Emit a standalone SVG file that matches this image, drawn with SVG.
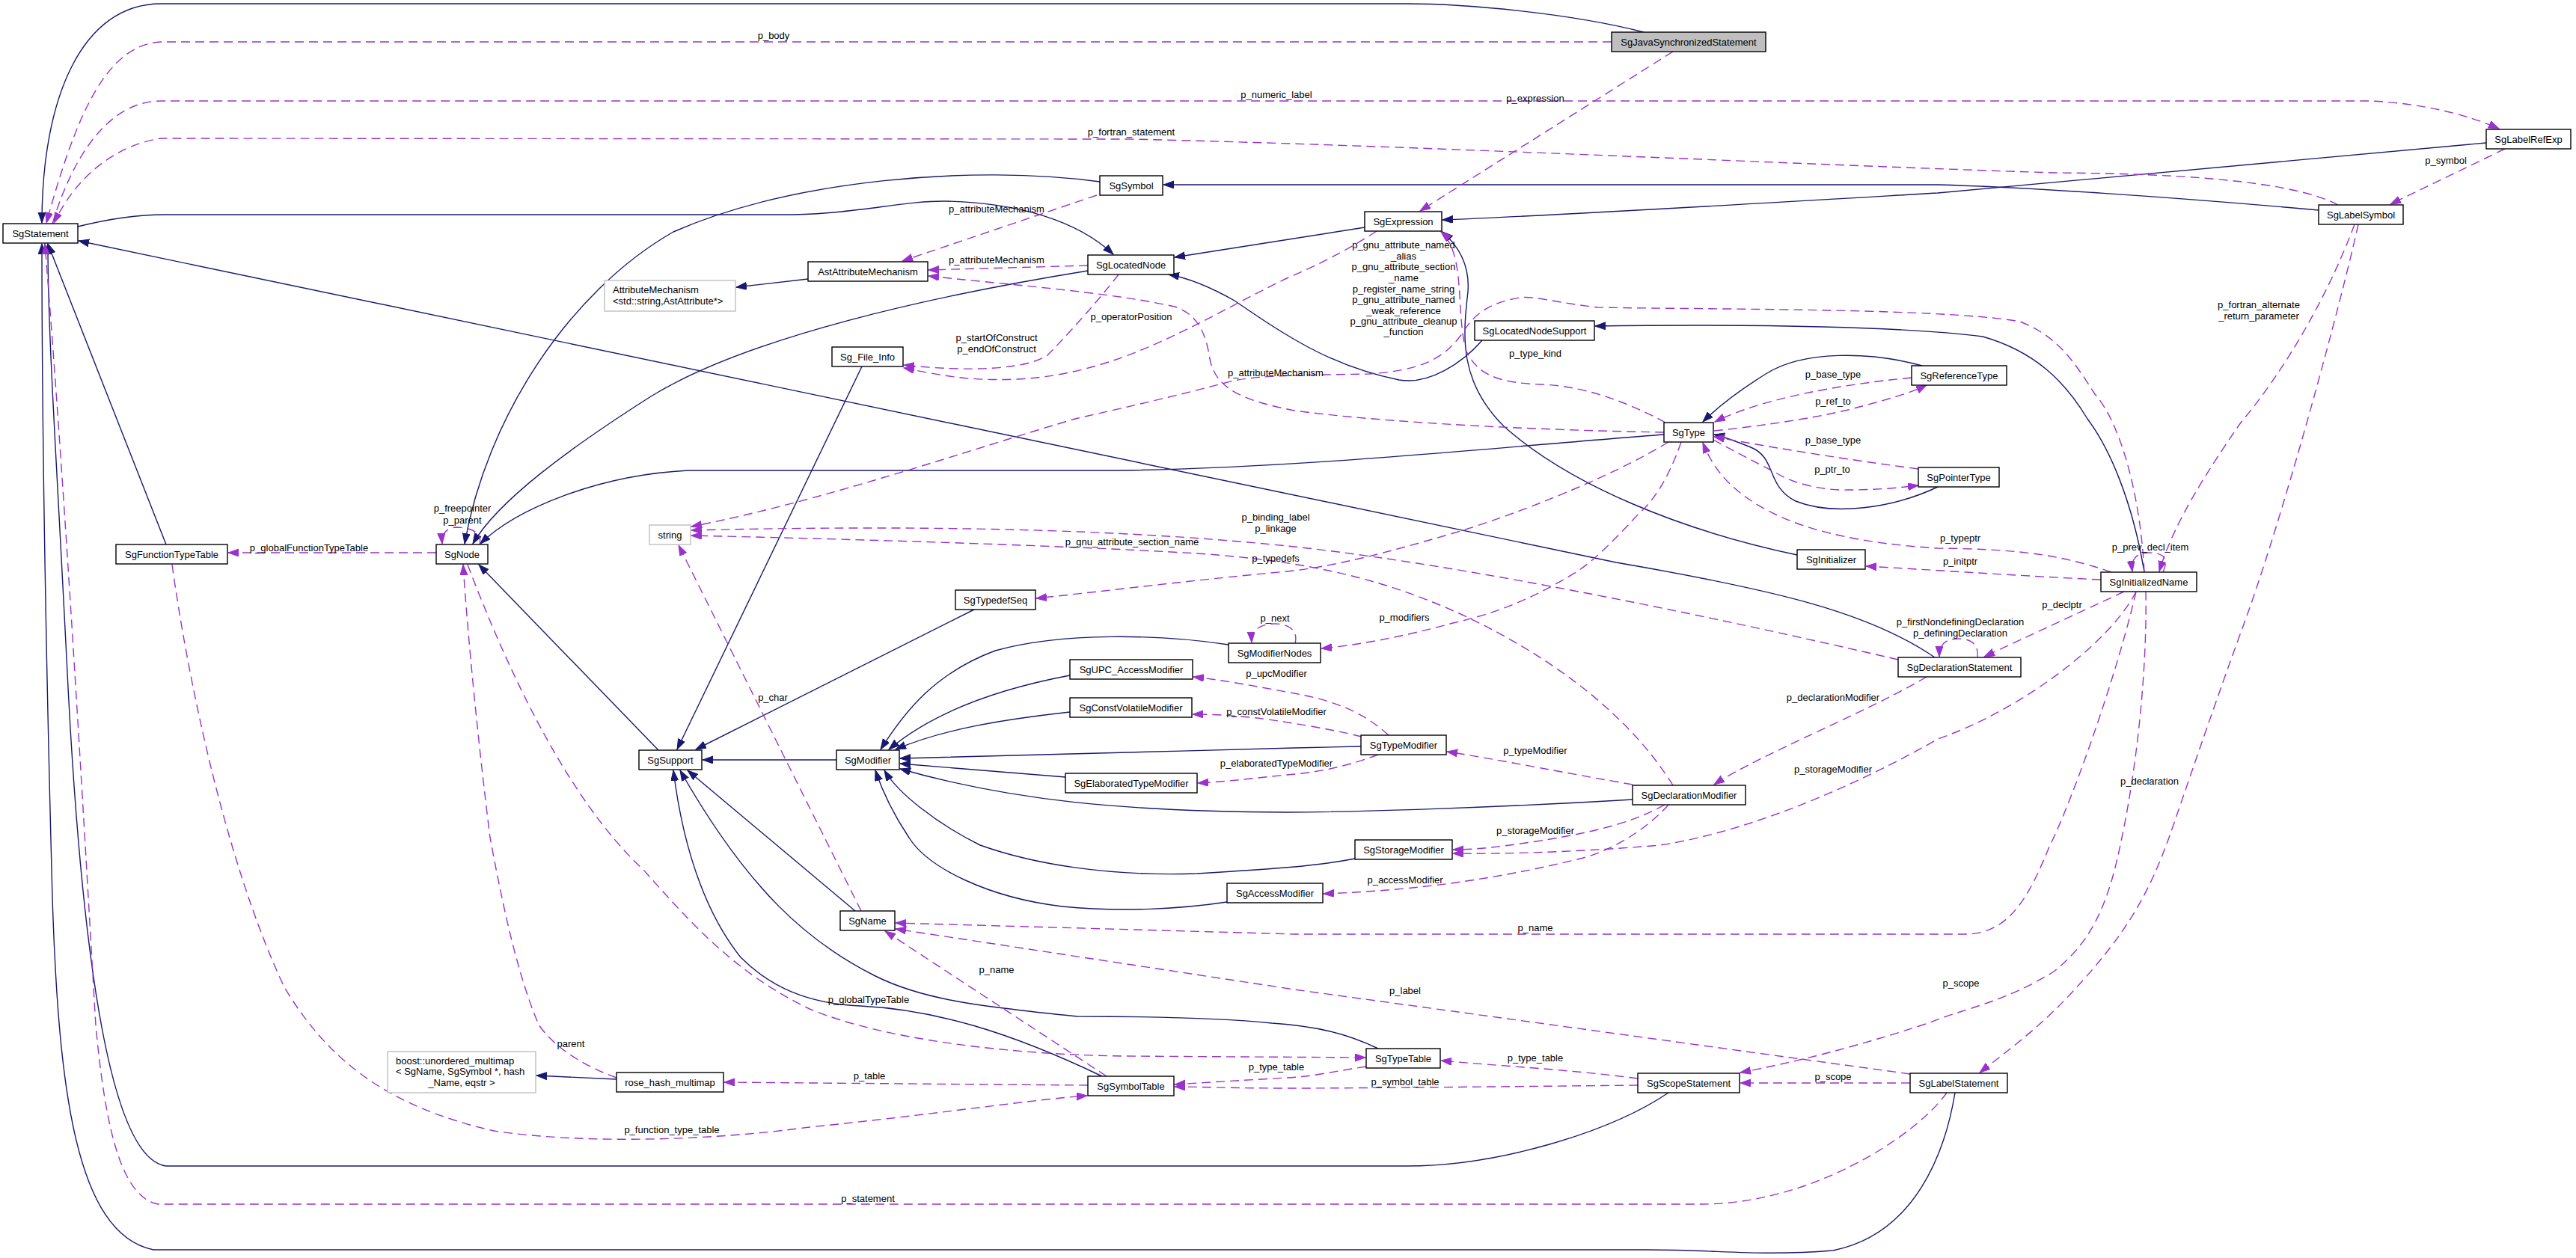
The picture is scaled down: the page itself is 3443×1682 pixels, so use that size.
<svg xmlns="http://www.w3.org/2000/svg" width="3443" height="1682" viewBox="0 0 3443 1682">
<style>
text{font-family:"Liberation Sans",Arial,Helvetica,sans-serif;font-size:13px;fill:#000}
.n rect{fill:#fff;stroke:#000;stroke-width:1.4}
.g rect{fill:#fff;stroke:#bfbfbf;stroke-width:1.4}
.n text,.c,.lbl{text-anchor:middle}
.inh{fill:none;stroke:#191970;stroke-width:1.4;marker-end:url(#ab)}
.use{fill:none;stroke:#9a32cd;stroke-width:1.4;stroke-dasharray:12,7;marker-end:url(#ap)}
</style>
<defs>
<marker id="ab" markerUnits="userSpaceOnUse" markerWidth="15" markerHeight="11" refX="14" refY="5" orient="auto"><path d="M0,0 L14,5 L0,10 z" fill="#191970" stroke="#191970"/></marker>
<marker id="ap" markerUnits="userSpaceOnUse" markerWidth="15" markerHeight="11" refX="14" refY="5" orient="auto"><path d="M0,0 L14,5 L0,10 z" fill="#9a32cd" stroke="#9a32cd"/></marker>
</defs>
<rect x="0" y="0" width="3443" height="1682" fill="#fff"/>
<g id="connectors">
<path class="inh" d="M2197,43 C2100,18 1960,5 1880,5 L215,5 C110,5 56,130 56,298"/>
<path class="inh" d="M104,303 C140,294 180,287 220,287 L1060,287 C1150,285 1210,268 1265,269 C1360,271 1440,295 1488,340"/>
<path class="inh" d="M1470,243 C1300,220 1060,240 900,310 C760,390 650,560 621,727"/>
<path class="inh" d="M1454,362 C1250,395 1000,450 870,530 C760,600 665,670 632,727"/>
<path class="inh" d="M2224,581 C2000,598 1750,625 1500,629 L920,629 C800,635 690,680 642,727"/>
<path class="inh" d="M880,1003 L640,755"/>
<path class="inh" d="M1152,490 L905,1002"/>
<path class="inh" d="M1302,815 L930,1002"/>
<path class="inh" d="M1118,1016 L939,1016"/>
<path class="inh" d="M1473,1439 C1350,1380 1250,1350 1150,1345 C1080,1342 1030,1320 990,1280 C950,1230 915,1150 900,1030"/>
<path class="inh" d="M1842,1402 C1800,1382 1760,1372 1700,1368 C1620,1360 1520,1359 1440,1359 C1300,1345 1230,1335 1170,1305 C1080,1260 1000,1190 909,1030"/>
<path class="inh" d="M1143,1218 L919,1030"/>
<path class="inh" d="M1642,862 C1550,848 1420,845 1330,870 C1250,900 1210,950 1177,1002"/>
<path class="inh" d="M1430,903 C1340,920 1250,950 1188,1002"/>
<path class="inh" d="M1430,952 C1340,962 1260,975 1197,1002"/>
<path class="inh" d="M1819,998 L1730,1000 C1550,1005 1350,1010 1203,1014"/>
<path class="inh" d="M1424,1039 L1203,1021"/>
<path class="inh" d="M2182,1069 C2000,1080 1800,1086 1720,1086 C1500,1085 1350,1070 1203,1028"/>
<path class="inh" d="M1640,1206 C1580,1215 1500,1220 1420,1212 C1320,1200 1240,1160 1215,1120 C1195,1090 1180,1060 1170,1030"/>
<path class="inh" d="M1811,1148 C1760,1158 1700,1162 1600,1168 C1480,1172 1380,1155 1310,1130 C1250,1100 1200,1060 1182,1030"/>
<path class="inh" d="M1824,304 L1570,344"/>
<path class="inh" d="M3323,191 L2590,258 C2300,275 2100,287 1928,294"/>
<path class="inh" d="M3099,281 C2900,263 2700,250 2590,247 L1555,247"/>
<path class="inh" d="M2402,742 C2250,710 2100,650 2010,570 C1950,510 1955,450 1962,390 C1965,350 1945,325 1928,310"/>
<path class="inh" d="M1981,455 C1955,485 1910,515 1870,508 C1780,490 1720,450 1650,402 C1620,385 1590,372 1562,367"/>
<path class="inh" d="M2569,489 C2500,470 2410,468 2360,500 C2320,525 2295,545 2276,564"/>
<path class="inh" d="M2592,650 C2530,680 2450,690 2400,670 C2360,650 2375,612 2340,598 C2320,590 2305,584 2291,581"/>
<path class="inh" d="M2866,765 C2850,670 2820,600 2790,560 C2760,510 2720,470 2650,450 C2550,437 2350,433 2132,436"/>
<path class="inh" d="M2586,879 C2500,820 2380,790 2160,752 L105,322"/>
<path class="inh" d="M222,728 L64,326"/>
<path class="inh" d="M2230,1461 C2150,1515 2000,1559 1880,1559 L222,1559 C150,1550 110,1300 90,900 C75,600 64,450 64,326"/>
<path class="inh" d="M2613,1461 C2600,1540 2560,1650 2450,1672 C2350,1680 2300,1671 2200,1671 L205,1671 C100,1650 78,1450 70,1200 C62,900 56,600 56,326"/>
<path class="inh" d="M1080,373 L984,384"/>
<path class="inh" d="M824,1443 L717,1438"/>
<path class="use" d="M2154,56 L215,56 C140,60 100,160 62,298"/>
<path class="use" d="M70,299 C100,200 150,135 215,135 L3169,135 C3230,138 3290,150 3340,172"/>
<path class="use" d="M3125,274 C3060,240 2900,232 2745,231 C2400,220 1900,195 1512,186 L215,185 C150,195 100,240 72,298"/>
<path class="use" d="M2236,69 L1898,282"/>
<path class="use" d="M3348,199 L3195,273"/>
<path class="use" d="M1466,261 L1206,349"/>
<path class="use" d="M1454,355 L1241,361"/>
<path class="use" d="M2224,578 C2050,575 1850,565 1730,549 C1660,535 1625,520 1617,480 C1612,445 1600,420 1570,410 C1480,390 1340,380 1241,369"/>
<path class="use" d="M1495,367 C1470,400 1420,455 1400,475 C1370,495 1290,497 1208,488"/>
<path class="use" d="M1840,309 C1800,335 1760,355 1720,372 C1600,430 1500,500 1359,507 C1290,510 1250,500 1208,492"/>
<path class="use" d="M2226,565 C2180,540 2120,516 2060,514 C2000,512 1975,500 1960,470 C1945,420 1960,340 1926,310"/>
<path class="use" d="M2555,505 C2450,515 2350,535 2292,564"/>
<path class="use" d="M2291,576 C2350,570 2420,560 2470,548 C2520,535 2555,525 2575,515"/>
<path class="use" d="M2564,627 C2450,612 2350,595 2291,584"/>
<path class="use" d="M2290,588 C2330,610 2360,625 2375,633 C2400,648 2440,656 2470,655 C2510,655 2540,652 2564,649"/>
<path class="use" d="M2822,765 C2750,740 2690,734 2590,733 C2460,725 2380,700 2330,662 C2300,640 2285,615 2276,592"/>
<path class="use" d="M2808,775 C2700,770 2600,763 2494,757"/>
<path class="use" d="M2891,765 C2900,745 2890,739 2872,739 C2855,739 2848,748 2850,764"/>
<path class="use" d="M3147,300 C3110,400 3050,500 2995,565 C2950,630 2905,700 2886,764"/>
<path class="use" d="M2839,791 L2652,878"/>
<path class="use" d="M2643,879 C2645,862 2635,854 2618,854 C2600,854 2592,862 2592,878"/>
<path class="use" d="M2575,905 C2500,950 2350,1010 2291,1049"/>
<path class="use" d="M2855,791 C2820,860 2700,950 2590,988 C2500,1040 2350,1110 2219,1130 C2100,1140 2000,1142 1942,1141"/>
<path class="use" d="M2225,1076 C2190,1095 2150,1110 2053,1125 C2000,1133 1970,1136 1942,1136"/>
<path class="use" d="M2230,1076 C2200,1110 2150,1140 2108,1149 C2000,1175 1900,1190 1769,1195"/>
<path class="use" d="M2182,1049 C2100,1035 2000,1015 1934,1005"/>
<path class="use" d="M1856,983 C1830,960 1800,940 1730,927 C1680,918 1640,910 1595,905"/>
<path class="use" d="M1820,985 C1780,975 1720,965 1680,960 C1640,956 1620,955 1594,955"/>
<path class="use" d="M1842,1009 C1800,1025 1760,1033 1720,1036 C1680,1040 1640,1045 1601,1047"/>
<path class="use" d="M2230,591 C2150,640 2020,690 1942,713 C1850,740 1780,758 1720,764 C1600,775 1480,790 1385,800"/>
<path class="use" d="M2247,591 C2230,640 2210,670 2190,687 C2160,720 2130,750 2108,764 C2050,800 2000,820 1942,833 C1880,850 1820,862 1766,867"/>
<path class="use" d="M1731,860 C1735,845 1725,834 1704,834 C1685,834 1672,842 1673,859"/>
<path class="use" d="M2537,882 C2400,850 2000,760 1730,731 C1550,712 1300,700 924,709"/>
<path class="use" d="M2236,1050 C2180,960 2080,880 1950,820 C1850,775 1750,750 1600,740 C1400,728 1100,720 924,716"/>
<path class="use" d="M2866,765 C2860,650 2830,560 2800,527 C2770,480 2750,450 2700,430 C2600,412 2300,414 2136,411 C2080,405 2050,395 2031,398 C1990,405 1970,420 1955,445 C1930,480 1900,495 1830,500 L1770,501 C1700,502 1660,505 1637,512 C1550,535 1480,550 1437,560 C1300,600 1100,670 924,704"/>
<path class="use" d="M1151,1218 L907,729"/>
<path class="use" d="M2855,791 C2830,900 2770,1070 2740,1130 C2715,1190 2690,1247 2630,1249 L1730,1249 L1197,1234"/>
<path class="use" d="M2553,1436 L1730,1323 L1197,1242"/>
<path class="use" d="M1479,1439 L1183,1245"/>
<path class="use" d="M1454,1451 L968,1447"/>
<path class="use" d="M824,1441 C780,1425 740,1400 720,1370 C690,1300 670,1200 655,1120 C640,1000 625,850 619,755"/>
<path class="use" d="M625,755 C680,900 760,1070 860,1163 C920,1230 980,1300 1082,1349 C1180,1390 1350,1410 1500,1412 L1825,1414"/>
<path class="use" d="M583,739 L305,739"/>
<path class="use" d="M641,728 C645,712 630,705 610,705 C595,706 590,715 591,727"/>
<path class="use" d="M230,755 C250,900 300,1150 380,1320 C440,1420 520,1480 660,1512 C780,1530 950,1525 1082,1507 C1250,1490 1380,1470 1453,1465"/>
<path class="use" d="M2602,1461 C2560,1520 2420,1610 2274,1610 L211,1610 C160,1600 140,1500 128,1371 C115,1150 90,700 60,326"/>
<path class="use" d="M1826,1426 C1780,1433 1750,1440 1720,1441 C1650,1445 1600,1448 1570,1450"/>
<path class="use" d="M2189,1451 C2000,1453 1800,1455 1720,1455 C1650,1455 1600,1453 1570,1453"/>
<path class="use" d="M2189,1442 C2100,1430 2000,1425 1926,1418"/>
<path class="use" d="M2553,1448 L2326,1448"/>
<path class="use" d="M2868,791 C2870,900 2855,1030 2836,1120 C2820,1200 2800,1256 2745,1299 C2680,1340 2620,1350 2580,1367 C2480,1400 2400,1420 2326,1434"/>
<path class="use" d="M3152,300 C3130,400 3050,700 2993,851 C2950,970 2920,1060 2899,1120 C2870,1200 2840,1250 2772,1324 C2730,1370 2690,1400 2646,1434"/>
</g>
<g id="edge-labels">
<text class="lbl" x="1034" y="52">p_body</text>
<text class="lbl" x="1706" y="131">p_numeric_label</text>
<text class="lbl" x="2052" y="136">p_expression</text>
<text class="lbl" x="1512" y="181">p_fortran_statement</text>
<text class="lbl" x="1332" y="284">p_attributeMechanism</text>
<text class="lbl" x="1332" y="352">p_attributeMechanism</text>
<text class="lbl" x="1512" y="428">p_operatorPosition</text>
<text class="lbl" x="1332" y="456">p_startOfConstruct</text>
<text class="lbl" x="1332" y="471">p_endOfConstruct</text>
<text class="lbl" x="1705" y="503">p_attributeMechanism</text>
<text class="lbl" x="1876" y="332">p_gnu_attribute_named</text>
<text class="lbl" x="1876" y="347">_alias</text>
<text class="lbl" x="1876" y="361">p_gnu_attribute_section</text>
<text class="lbl" x="1876" y="376">_name</text>
<text class="lbl" x="1876" y="391">p_register_name_string</text>
<text class="lbl" x="1876" y="405">p_gnu_attribute_named</text>
<text class="lbl" x="1876" y="420">_weak_reference</text>
<text class="lbl" x="1876" y="434">p_gnu_attribute_cleanup</text>
<text class="lbl" x="1876" y="448">_function</text>
<text class="lbl" x="2052" y="477">p_type_kind</text>
<text class="lbl" x="2450" y="505">p_base_type</text>
<text class="lbl" x="2450" y="541">p_ref_to</text>
<text class="lbl" x="3269" y="219">p_symbol</text>
<text class="lbl" x="3019" y="412">p_fortran_alternate</text>
<text class="lbl" x="3019" y="427">_return_parameter</text>
<text class="lbl" x="2450" y="593">p_base_type</text>
<text class="lbl" x="2449" y="632">p_ptr_to</text>
<text class="lbl" x="2620" y="724">p_typeptr</text>
<text class="lbl" x="2874" y="736">p_prev_decl_item</text>
<text class="lbl" x="2620" y="755">p_initptr</text>
<text class="lbl" x="2756" y="813">p_declptr</text>
<text class="lbl" x="2620" y="836">p_firstNondefiningDeclaration</text>
<text class="lbl" x="2620" y="851">p_definingDeclaration</text>
<text class="lbl" x="2450" y="937">p_declarationModifier</text>
<text class="lbl" x="2052" y="1008">p_typeModifier</text>
<text class="lbl" x="2450" y="1033">p_storageModifier</text>
<text class="lbl" x="2052" y="1115">p_storageModifier</text>
<text class="lbl" x="2873" y="1049">p_declaration</text>
<text class="lbl" x="618" y="684">p_freepointer</text>
<text class="lbl" x="618" y="700">p_parent</text>
<text class="lbl" x="413" y="737">p_globalFunctionTypeTable</text>
<text class="lbl" x="1705" y="696">p_binding_label</text>
<text class="lbl" x="1705" y="711">p_linkage</text>
<text class="lbl" x="1513" y="729">p_gnu_attribute_section_name</text>
<text class="lbl" x="1705" y="751">p_typedefs</text>
<text class="lbl" x="1704" y="831">p_next</text>
<text class="lbl" x="1877" y="830">p_modifiers</text>
<text class="lbl" x="1706" y="905">p_upcModifier</text>
<text class="lbl" x="1033" y="937">p_char</text>
<text class="lbl" x="1706" y="956">p_constVolatileModifier</text>
<text class="lbl" x="1706" y="1025">p_elaboratedTypeModifier</text>
<text class="lbl" x="1878" y="1181">p_accessModifier</text>
<text class="lbl" x="2052" y="1245">p_name</text>
<text class="lbl" x="1332" y="1301">p_name</text>
<text class="lbl" x="1878" y="1329">p_label</text>
<text class="lbl" x="2621" y="1319">p_scope</text>
<text class="lbl" x="1161" y="1341">p_globalTypeTable</text>
<text class="lbl" x="763" y="1400">parent</text>
<text class="lbl" x="2052" y="1419">p_type_table</text>
<text class="lbl" x="1706" y="1431">p_type_table</text>
<text class="lbl" x="1162" y="1443">p_table</text>
<text class="lbl" x="2450" y="1444">p_scope</text>
<text class="lbl" x="1878" y="1451">p_symbol_table</text>
<text class="lbl" x="898" y="1515">p_function_type_table</text>
<text class="lbl" x="1160" y="1607">p_statement</text>
</g>
<g id="SgStatement" class="n"><rect x="4" y="299" width="100" height="26"/><text x="54" y="316.5">SgStatement</text></g>
<g id="SgJavaSynchronizedStatement" class="n"><rect x="2154" y="43" width="206" height="26" style="fill:#bfbfbf"/><text x="2257" y="60.5">SgJavaSynchronizedStatement</text></g>
<g id="SgSymbol" class="n"><rect x="1470" y="235" width="84" height="26"/><text x="1512" y="252.5">SgSymbol</text></g>
<g id="SgExpression" class="n"><rect x="1824" y="283" width="103" height="26"/><text x="1875.5" y="300.5">SgExpression</text></g>
<g id="SgLabelRefExp" class="n"><rect x="3323" y="173" width="113" height="26"/><text x="3379.5" y="190.5">SgLabelRefExp</text></g>
<g id="SgLabelSymbol" class="n"><rect x="3099" y="274" width="113" height="26"/><text x="3155.5" y="291.5">SgLabelSymbol</text></g>
<g id="AstAttributeMechanism" class="n"><rect x="1080" y="350" width="160" height="26"/><text x="1160" y="367.5">AstAttributeMechanism</text></g>
<g id="SgLocatedNode" class="n"><rect x="1454" y="341" width="115" height="26"/><text x="1511.5" y="358.5">SgLocatedNode</text></g>
<g id="AttributeMechanism" class="g"><rect x="808" y="375" width="175" height="41"/><text x="819" y="392">AttributeMechanism</text><text x="819" y="407">&lt;std::string,AstAttribute*&gt;</text></g>
<g id="Sg_File_Info" class="n"><rect x="1112" y="464" width="95" height="26"/><text x="1159.5" y="481.5">Sg_File_Info</text></g>
<g id="SgLocatedNodeSupport" class="n"><rect x="1971" y="429" width="160" height="26"/><text x="2051" y="446.5">SgLocatedNodeSupport</text></g>
<g id="SgReferenceType" class="n"><rect x="2555" y="489" width="127" height="26"/><text x="2618.5" y="506.5">SgReferenceType</text></g>
<g id="SgType" class="n"><rect x="2224" y="565" width="66" height="26"/><text x="2257" y="582.5">SgType</text></g>
<g id="SgPointerType" class="n"><rect x="2564" y="625" width="108" height="26"/><text x="2618" y="642.5">SgPointerType</text></g>
<g id="SgInitializer" class="n"><rect x="2402" y="735" width="91" height="26"/><text x="2447.5" y="752.5">SgInitializer</text></g>
<g id="SgInitializedName" class="n"><rect x="2808" y="765" width="128" height="26"/><text x="2872" y="782.5">SgInitializedName</text></g>
<g id="SgFunctionTypeTable" class="n"><rect x="155" y="728" width="149" height="26"/><text x="229.5" y="745.5">SgFunctionTypeTable</text></g>
<g id="SgNode" class="n"><rect x="583" y="728" width="69" height="26"/><text x="617.5" y="745.5">SgNode</text></g>
<g id="string" class="g"><rect x="868" y="702" width="55" height="26"/><text class="c" x="895.5" y="719.5">string</text></g>
<g id="SgTypedefSeq" class="n"><rect x="1277" y="789" width="107" height="26"/><text x="1330.5" y="806.5">SgTypedefSeq</text></g>
<g id="SgModifierNodes" class="n"><rect x="1642" y="860" width="123" height="26"/><text x="1703.5" y="877.5">SgModifierNodes</text></g>
<g id="SgUPC_AccessModifier" class="n"><rect x="1430" y="882" width="164" height="26"/><text x="1512" y="899.5">SgUPC_AccessModifier</text></g>
<g id="SgConstVolatileModifier" class="n"><rect x="1430" y="933" width="163" height="26"/><text x="1511.5" y="950.5">SgConstVolatileModifier</text></g>
<g id="SgDeclarationStatement" class="n"><rect x="2537" y="879" width="164" height="26"/><text x="2619" y="896.5">SgDeclarationStatement</text></g>
<g id="SgSupport" class="n"><rect x="854" y="1003" width="84" height="26"/><text x="896" y="1020.5">SgSupport</text></g>
<g id="SgModifier" class="n"><rect x="1118" y="1003" width="84" height="26"/><text x="1160" y="1020.5">SgModifier</text></g>
<g id="SgTypeModifier" class="n"><rect x="1819" y="983" width="114" height="26"/><text x="1876" y="1000.5">SgTypeModifier</text></g>
<g id="SgElaboratedTypeModifier" class="n"><rect x="1424" y="1034" width="176" height="26"/><text x="1512" y="1051.5">SgElaboratedTypeModifier</text></g>
<g id="SgDeclarationModifier" class="n"><rect x="2182" y="1050" width="151" height="26"/><text x="2257.5" y="1067.5">SgDeclarationModifier</text></g>
<g id="SgStorageModifier" class="n"><rect x="1811" y="1123" width="130" height="26"/><text x="1876" y="1140.5">SgStorageModifier</text></g>
<g id="SgAccessModifier" class="n"><rect x="1640" y="1181" width="128" height="26"/><text x="1704" y="1198.5">SgAccessModifier</text></g>
<g id="SgName" class="n"><rect x="1123" y="1218" width="73" height="26"/><text x="1159.5" y="1235.5">SgName</text></g>
<g id="boost_unordered_multimap" class="g"><rect x="518" y="1406" width="198" height="55"/><text x="529" y="1422.5">boost::unordered_multimap</text><text x="529" y="1437">&lt; SgName, SgSymbol *, hash</text><text class="c" x="617" y="1451.5">_Name, eqstr &gt;</text></g>
<g id="rose_hash_multimap" class="n"><rect x="824" y="1434" width="143" height="26"/><text x="895.5" y="1451.5">rose_hash_multimap</text></g>
<g id="SgSymbolTable" class="n"><rect x="1454" y="1439" width="115" height="26"/><text x="1511.5" y="1456.5">SgSymbolTable</text></g>
<g id="SgTypeTable" class="n"><rect x="1826" y="1402" width="99" height="26"/><text x="1875.5" y="1419.5">SgTypeTable</text></g>
<g id="SgScopeStatement" class="n"><rect x="2189" y="1435" width="136" height="26"/><text x="2257" y="1452.5">SgScopeStatement</text></g>
<g id="SgLabelStatement" class="n"><rect x="2553" y="1435" width="130" height="26"/><text x="2618" y="1452.5">SgLabelStatement</text></g>
</svg>
